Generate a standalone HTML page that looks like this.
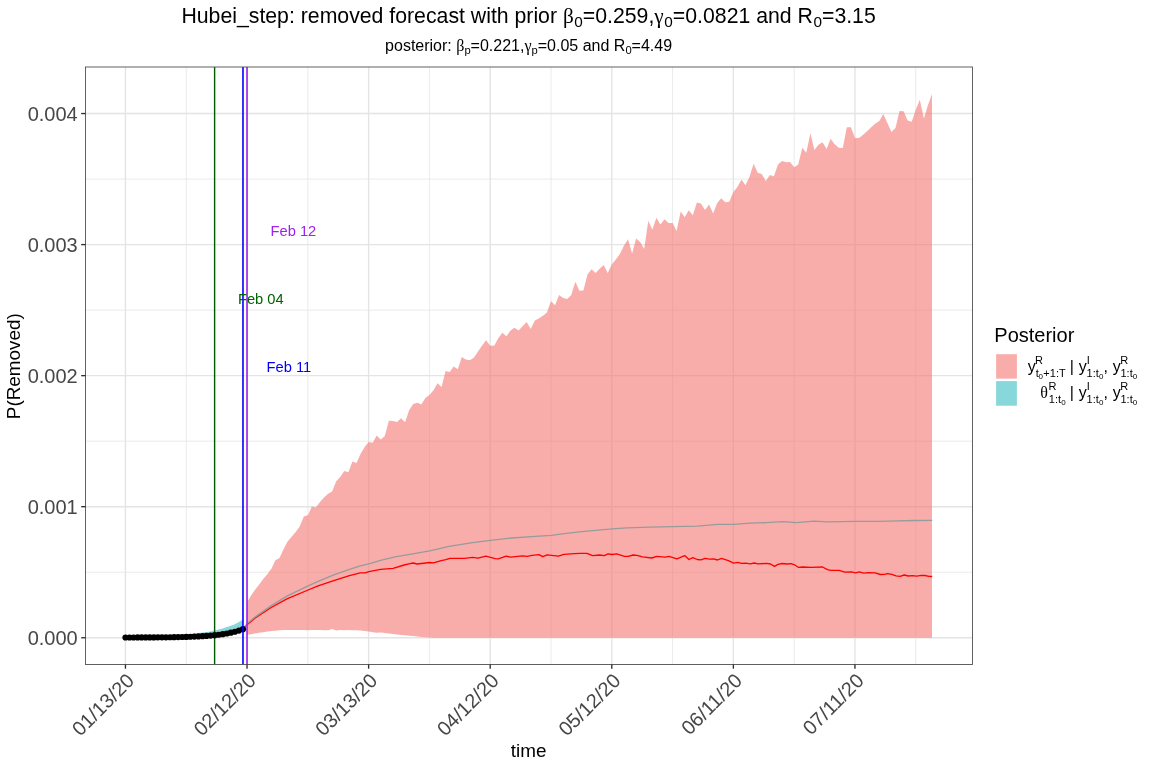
<!DOCTYPE html>
<html lang="en"><head><meta charset="utf-8"><title>Hubei_step: removed forecast</title>
<style>html,body{margin:0;padding:0;background:#fff;}body{width:1152px;height:768px;overflow:hidden;}svg{display:block;}text{font-family:"Liberation Sans",sans-serif;}.g{font-family:"Liberation Serif",serif;}</style></head><body>
<svg width="1152" height="768" viewBox="0 0 1152 768">
<rect width="1152" height="768" fill="#fff"/>
<g stroke="#e4e4e4" fill="none">
<line x1="186.24" x2="186.24" y1="67.0" y2="664.5" stroke-width="0.75"/>
<line x1="307.83" x2="307.83" y1="67.0" y2="664.5" stroke-width="0.75"/>
<line x1="429.41" x2="429.41" y1="67.0" y2="664.5" stroke-width="0.75"/>
<line x1="550.99" x2="550.99" y1="67.0" y2="664.5" stroke-width="0.75"/>
<line x1="672.58" x2="672.58" y1="67.0" y2="664.5" stroke-width="0.75"/>
<line x1="794.16" x2="794.16" y1="67.0" y2="664.5" stroke-width="0.75"/>
<line x1="915.75" x2="915.75" y1="67.0" y2="664.5" stroke-width="0.75"/>
<line x1="85.45" x2="972.5" y1="572.23" y2="572.23" stroke-width="0.75"/>
<line x1="85.45" x2="972.5" y1="441.17" y2="441.17" stroke-width="0.75"/>
<line x1="85.45" x2="972.5" y1="310.12" y2="310.12" stroke-width="0.75"/>
<line x1="85.45" x2="972.5" y1="179.07" y2="179.07" stroke-width="0.75"/>
<line x1="125.45" x2="125.45" y1="67.0" y2="664.5" stroke-width="1.4"/>
<line x1="247.03" x2="247.03" y1="67.0" y2="664.5" stroke-width="1.4"/>
<line x1="368.62" x2="368.62" y1="67.0" y2="664.5" stroke-width="1.4"/>
<line x1="490.20" x2="490.20" y1="67.0" y2="664.5" stroke-width="1.4"/>
<line x1="611.79" x2="611.79" y1="67.0" y2="664.5" stroke-width="1.4"/>
<line x1="733.37" x2="733.37" y1="67.0" y2="664.5" stroke-width="1.4"/>
<line x1="854.95" x2="854.95" y1="67.0" y2="664.5" stroke-width="1.4"/>
<line x1="85.45" x2="972.5" y1="637.75" y2="637.75" stroke-width="1.4"/>
<line x1="85.45" x2="972.5" y1="506.70" y2="506.70" stroke-width="1.4"/>
<line x1="85.45" x2="972.5" y1="375.65" y2="375.65" stroke-width="1.4"/>
<line x1="85.45" x2="972.5" y1="244.60" y2="244.60" stroke-width="1.4"/>
<line x1="85.45" x2="972.5" y1="113.55" y2="113.55" stroke-width="1.4"/>
</g>
<polygon fill="#27b6bc" fill-opacity="0.55" points="125.5,637.2 129.5,637.2 133.6,637.1 137.6,637.0 141.7,636.9 145.7,636.8 149.8,636.6 153.8,636.4 157.9,636.2 161.9,636.0 166.0,635.8 170.0,635.5 174.1,635.3 178.1,635.0 182.2,634.7 186.2,634.3 190.3,634.0 194.3,633.5 198.4,633.1 202.5,632.6 206.5,632.0 210.6,631.4 214.6,630.6 218.7,629.6 222.7,628.4 226.8,627.0 230.8,625.7 234.9,624.2 238.9,622.0 243.0,619.5 243.0,629.2 238.9,630.6 234.9,631.7 230.8,632.7 226.8,633.5 222.7,634.2 218.7,634.7 214.6,635.2 210.6,635.6 206.5,635.9 202.5,636.2 198.4,636.4 194.3,636.6 190.3,636.8 186.2,636.9 182.2,637.0 178.1,637.1 174.1,637.2 170.0,637.2 166.0,637.3 161.9,637.3 157.9,637.4 153.8,637.4 149.8,637.4 145.7,637.4 141.7,637.5 137.6,637.5 133.6,637.5 129.5,637.5 125.5,637.5"/>
<polygon fill="#f57672" fill-opacity="0.6" points="247.0,602.3 251.1,595.6 255.1,589.8 259.2,584.4 263.2,578.9 267.3,574.2 271.4,568.8 275.4,560.2 279.5,558.1 283.5,549.2 287.6,541.4 291.6,536.7 295.7,532.0 299.7,526.6 303.8,516.4 307.8,515.3 311.9,506.6 315.9,507.5 320.0,502.0 324.0,497.5 328.1,493.8 332.1,491.4 336.2,481.2 340.2,476.9 344.3,471.1 348.4,472.2 352.4,461.4 356.5,463.0 360.5,453.9 364.6,446.9 368.6,441.9 372.7,442.7 376.7,435.6 380.8,439.4 384.8,435.9 388.9,420.8 392.9,421.1 397.0,421.9 401.0,418.3 405.1,422.3 409.1,410.2 413.2,403.9 417.3,402.8 421.3,404.5 425.4,398.0 429.4,395.0 433.5,390.3 437.5,383.3 441.6,387.0 445.6,371.1 449.7,371.9 453.7,366.4 457.8,369.2 461.8,357.0 465.9,359.4 469.9,360.2 474.0,357.5 478.0,351.6 482.1,345.6 486.1,340.3 490.2,345.8 494.3,345.6 498.3,338.3 502.4,332.8 506.4,336.2 510.5,330.5 514.5,327.8 518.6,330.5 522.6,326.2 526.7,321.9 530.7,329.0 534.8,320.4 538.8,318.4 542.9,315.8 546.9,312.5 551.0,300.9 555.0,305.2 559.1,295.0 563.2,298.1 567.2,298.9 571.3,295.0 575.3,281.7 579.4,290.8 583.4,290.6 587.5,274.4 591.5,269.2 595.6,273.1 599.6,268.8 603.7,265.0 607.7,273.1 611.8,264.5 615.8,259.4 619.9,254.1 623.9,245.8 628.0,239.2 632.1,253.6 636.1,238.4 640.2,241.9 644.2,248.9 648.3,220.8 652.3,229.8 656.4,217.8 660.4,224.4 664.5,219.2 668.5,223.1 672.6,223.1 676.6,231.1 680.7,211.4 684.7,217.3 688.8,210.3 692.8,215.3 696.9,202.5 700.9,203.6 705.0,210.0 709.1,204.5 713.1,213.4 717.2,203.0 721.2,198.3 725.3,202.2 729.3,201.7 733.4,192.0 737.4,186.9 741.5,179.5 745.5,185.3 749.6,176.5 753.6,163.8 757.7,172.8 761.7,173.9 765.8,180.9 769.8,175.0 773.9,176.2 778.0,164.5 782.0,161.1 786.1,162.2 790.1,161.9 794.2,167.3 798.2,164.5 802.3,147.8 806.3,152.8 810.4,133.3 814.4,150.0 818.5,144.7 822.5,142.2 826.6,148.9 830.6,138.8 834.7,144.2 838.7,147.7 842.8,147.9 846.8,127.2 850.9,127.2 855.0,137.9 859.0,137.9 863.1,134.8 867.1,131.2 871.2,127.2 875.2,123.8 879.3,120.9 883.3,113.9 887.4,123.0 891.4,131.9 895.5,128.0 899.5,111.1 903.6,111.2 907.6,120.6 911.7,121.7 915.7,110.0 919.8,99.8 923.9,118.6 927.9,105.3 932.0,94.1 932.0,637.7 927.9,637.7 923.9,637.7 919.8,637.7 915.7,637.7 911.7,637.7 907.6,637.7 903.6,637.7 899.5,637.7 895.5,637.7 891.4,637.7 887.4,637.7 883.3,637.7 879.3,637.7 875.2,637.7 871.2,637.7 867.1,637.7 863.1,637.7 859.0,637.7 855.0,637.7 850.9,637.7 846.8,637.7 842.8,637.7 838.7,637.7 834.7,637.7 830.6,637.7 826.6,637.7 822.5,637.7 818.5,637.7 814.4,637.7 810.4,637.7 806.3,637.7 802.3,637.7 798.2,637.7 794.2,637.7 790.1,637.7 786.1,637.7 782.0,637.7 778.0,637.7 773.9,637.7 769.8,637.7 765.8,637.7 761.7,637.7 757.7,637.7 753.6,637.7 749.6,637.7 745.5,637.7 741.5,637.7 737.4,637.7 733.4,637.7 729.3,637.7 725.3,637.7 721.2,637.7 717.2,637.7 713.1,637.7 709.1,637.7 705.0,637.7 700.9,637.7 696.9,637.7 692.8,637.7 688.8,637.7 684.7,637.7 680.7,637.7 676.6,637.7 672.6,637.7 668.5,637.7 664.5,637.7 660.4,637.7 656.4,637.7 652.3,637.7 648.3,637.7 644.2,637.7 640.2,637.7 636.1,637.7 632.1,637.7 628.0,637.7 623.9,637.7 619.9,637.7 615.8,637.7 611.8,637.7 607.7,637.7 603.7,637.7 599.6,637.7 595.6,637.7 591.5,637.7 587.5,637.7 583.4,637.7 579.4,637.7 575.3,637.7 571.3,637.7 567.2,637.7 563.2,637.7 559.1,637.7 555.0,637.7 551.0,637.7 546.9,637.7 542.9,637.7 538.8,637.7 534.8,637.7 530.7,637.7 526.7,637.7 522.6,637.7 518.6,637.7 514.5,637.7 510.5,637.7 506.4,637.7 502.4,637.7 498.3,637.7 494.3,637.7 490.2,637.7 486.1,637.7 482.1,637.7 478.0,637.7 474.0,637.7 469.9,637.7 465.9,637.7 461.8,637.7 457.8,637.7 453.7,637.7 449.7,637.7 445.6,637.7 441.6,637.7 437.5,637.7 433.5,637.7 429.4,637.6 425.4,637.3 421.3,636.9 417.3,636.5 413.2,636.1 409.1,635.7 405.1,635.3 401.0,634.9 397.0,634.4 392.9,634.0 388.9,633.5 384.8,633.0 380.8,632.4 376.7,632.8 372.7,632.3 368.6,631.6 364.6,631.1 360.5,630.6 356.5,630.2 352.4,630.2 348.4,630.1 344.3,630.3 340.2,630.1 336.2,630.4 332.1,628.9 328.1,630.3 324.0,630.2 320.0,630.0 315.9,630.1 311.9,630.0 307.8,630.2 303.8,630.0 299.7,630.1 295.7,629.9 291.6,630.1 287.6,630.0 283.5,630.1 279.5,630.3 275.4,630.7 271.4,631.1 267.3,631.6 263.2,632.2 259.2,632.7 255.1,633.5 251.1,634.3 247.0,634.8"/>
<line x1="214.61" x2="214.61" y1="67.0" y2="664.5" stroke="#005a00" stroke-width="1.4"/>
<polyline fill="none" stroke="#ff0000" stroke-width="1.35" stroke-linejoin="round" points="243.2,628.6 247.3,624.4 255.6,617.7 271.2,607.5 286.9,598.9 308.1,590.0 318.1,585.8 333.8,580.6 349.4,575.6 360.3,572.8 365.0,572.8 368.9,571.6 380.6,569.4 393.1,568.4 404.1,565.0 410.0,563.6 413.1,563.0 417.0,564.0 425.6,563.0 429.7,562.5 433.4,562.8 441.2,560.6 445.9,559.7 449.8,558.3 464.7,558.3 472.5,557.3 478.0,558.1 485.8,556.2 490.5,557.3 495.2,558.6 498.3,558.9 506.1,556.2 510.8,557.2 522.5,555.8 527.2,556.4 531.9,555.3 538.9,554.7 542.8,556.7 547.2,554.8 558.4,556.2 563.9,554.4 574.1,553.6 580.0,553.3 587.0,553.3 592.5,555.6 599.5,555.0 604.2,555.6 608.1,553.8 612.0,554.5 616.7,553.8 624.5,556.4 628.4,556.4 633.1,555.0 637.0,555.3 642.5,556.9 651.9,558.0 656.6,556.4 665.2,557.2 669.1,556.4 676.9,558.8 684.7,555.6 688.9,559.5 692.8,557.7 697.2,559.5 701.1,559.8 705.0,558.3 709.7,559.2 713.6,558.9 717.5,560.0 721.4,558.4 728.4,560.6 733.6,563.1 737.8,562.3 741.7,563.4 745.6,563.1 750.3,563.9 754.1,563.0 758.2,563.8 766.5,563.3 770.6,564.0 774.4,566.3 778.0,564.3 782.2,563.5 787.1,564.0 791.2,563.7 794.5,564.8 798.3,567.3 802.8,567.0 811.0,567.3 822.6,567.0 827.5,569.6 830.8,570.3 839.1,570.4 844.8,572.1 851.4,571.8 855.6,572.9 859.2,571.9 863.8,573.2 867.9,572.6 875.3,572.9 880.3,574.5 884.4,574.4 887.7,573.7 891.8,574.4 896.0,575.9 900.1,576.4 904.2,575.0 908.3,576.0 912.5,575.7 916.6,576.2 921.5,575.4 924.8,575.5 929.0,576.4 932.2,576.5"/>
<polyline fill="none" stroke="#969b9b" stroke-width="1.35" stroke-linejoin="round" points="243.2,628.3 247.3,623.6 255.6,616.6 271.2,605.6 286.9,596.2 308.1,585.8 318.1,581.4 333.8,574.8 349.4,569.4 360.3,565.8 368.9,563.8 380.6,560.3 396.2,556.7 410.0,554.4 419.7,552.6 429.7,550.8 449.1,546.4 472.5,542.7 490.5,540.3 511.6,538.0 535.0,536.4 551.3,535.3 566.2,533.3 581.9,531.6 589.7,530.9 595.6,530.3 612.0,528.8 626.9,527.8 650.3,527.2 672.8,526.6 697.2,526.2 717.5,524.4 733.6,524.4 750.3,523.1 766.5,522.6 783.0,521.6 796.2,522.6 814.3,521.1 827.5,521.8 855.6,521.4 878.6,521.4 898.4,520.9 914.9,520.5 932.2,520.3"/>
<g fill="#000">
<circle cx="125.45" cy="637.51" r="3.1"/>
<circle cx="129.50" cy="637.50" r="3.1"/>
<circle cx="133.56" cy="637.49" r="3.1"/>
<circle cx="137.61" cy="637.47" r="3.1"/>
<circle cx="141.66" cy="637.46" r="3.1"/>
<circle cx="145.71" cy="637.44" r="3.1"/>
<circle cx="149.77" cy="637.42" r="3.1"/>
<circle cx="153.82" cy="637.39" r="3.1"/>
<circle cx="157.87" cy="637.36" r="3.1"/>
<circle cx="161.93" cy="637.33" r="3.1"/>
<circle cx="165.98" cy="637.28" r="3.1"/>
<circle cx="170.03" cy="637.23" r="3.1"/>
<circle cx="174.08" cy="637.17" r="3.1"/>
<circle cx="178.14" cy="637.09" r="3.1"/>
<circle cx="182.19" cy="637.00" r="3.1"/>
<circle cx="186.24" cy="636.89" r="3.1"/>
<circle cx="190.29" cy="636.76" r="3.1"/>
<circle cx="194.35" cy="636.60" r="3.1"/>
<circle cx="198.40" cy="636.41" r="3.1"/>
<circle cx="202.45" cy="636.18" r="3.1"/>
<circle cx="206.51" cy="635.91" r="3.1"/>
<circle cx="210.56" cy="635.59" r="3.1"/>
<circle cx="214.61" cy="635.20" r="3.1"/>
<circle cx="218.66" cy="634.73" r="3.1"/>
<circle cx="222.72" cy="634.17" r="3.1"/>
<circle cx="226.77" cy="633.50" r="3.1"/>
<circle cx="230.82" cy="632.70" r="3.1"/>
<circle cx="234.88" cy="631.74" r="3.1"/>
<circle cx="238.93" cy="630.58" r="3.1"/>
<circle cx="242.98" cy="629.20" r="3.1"/>
</g>
<line x1="242.98" x2="242.98" y1="67.0" y2="664.5" stroke="#0000ff" stroke-width="1.6"/>
<line x1="247.03" x2="247.03" y1="67.0" y2="664.5" stroke="#a020f0" stroke-width="1.6"/>
<g font-size="14.7" text-anchor="middle">
<text x="293.4" y="235.8" fill="#a020f0">Feb 12</text>
<text x="260.8" y="303.6" fill="#006400">Feb 04</text>
<text x="288.9" y="371.7" fill="#0000ff">Feb 11</text>
</g>
<rect x="85.45" y="67.0" width="887.0" height="597.5" fill="none" stroke="#505050" stroke-width="0.9"/>
<g stroke="#2e2e2e" stroke-width="1.35">
<line x1="81.2" x2="85.45" y1="637.75" y2="637.75"/>
<line x1="81.2" x2="85.45" y1="506.70" y2="506.70"/>
<line x1="81.2" x2="85.45" y1="375.65" y2="375.65"/>
<line x1="81.2" x2="85.45" y1="244.60" y2="244.60"/>
<line x1="81.2" x2="85.45" y1="113.55" y2="113.55"/>
<line x1="125.45" x2="125.45" y1="664.5" y2="668.7"/>
<line x1="247.03" x2="247.03" y1="664.5" y2="668.7"/>
<line x1="368.62" x2="368.62" y1="664.5" y2="668.7"/>
<line x1="490.20" x2="490.20" y1="664.5" y2="668.7"/>
<line x1="611.79" x2="611.79" y1="664.5" y2="668.7"/>
<line x1="733.37" x2="733.37" y1="664.5" y2="668.7"/>
<line x1="854.95" x2="854.95" y1="664.5" y2="668.7"/>
</g>
<g font-size="20" fill="#474747" text-anchor="end">
<text x="77.7" y="644.8">0.000</text>
<text x="77.7" y="513.7">0.001</text>
<text x="77.7" y="382.6">0.002</text>
<text x="77.7" y="251.6">0.003</text>
<text x="77.7" y="120.5">0.004</text>
</g>
<g font-size="20" fill="#474747" text-anchor="end">
<text transform="translate(135.4,682.0) rotate(-45)">01/13/20</text>
<text transform="translate(257.0,682.0) rotate(-45)">02/12/20</text>
<text transform="translate(378.6,682.0) rotate(-45)">03/13/20</text>
<text transform="translate(500.2,682.0) rotate(-45)">04/12/20</text>
<text transform="translate(621.8,682.0) rotate(-45)">05/12/20</text>
<text transform="translate(743.4,682.0) rotate(-45)">06/11/20</text>
<text transform="translate(865.0,682.0) rotate(-45)">07/11/20</text>
</g>
<text x="528.6" y="757.2" font-size="18.9" text-anchor="middle" fill="#000">time</text>
<text transform="translate(19.9,366.2) rotate(-90)" font-size="18.9" text-anchor="middle" fill="#000">P(Removed)</text>
<text x="528.6" y="22.5" font-size="21.25" text-anchor="middle" fill="#000">Hubei_step: removed forecast with prior <tspan class="g">β</tspan><tspan font-size="15.3" dy="4" dx="0.6">0</tspan><tspan dy="-4">=0.259,</tspan><tspan class="g">γ</tspan><tspan font-size="15.3" dy="4" dx="0.6">0</tspan><tspan dy="-4">=0.0821 and R</tspan><tspan font-size="15.3" dy="4" dx="0.6">0</tspan><tspan dy="-4">=3.15</tspan></text>
<text x="528.6" y="50.6" font-size="16.0" text-anchor="middle" fill="#000">posterior: <tspan class="g">β</tspan><tspan font-size="11.2" dy="3">p</tspan><tspan dy="-3">=0.221,</tspan><tspan class="g">γ</tspan><tspan font-size="11.2" dy="3">p</tspan><tspan dy="-3">=0.05 and R</tspan><tspan font-size="11.2" dy="3">0</tspan><tspan dy="-3">=4.49</tspan></text>
<text x="994.3" y="341.8" font-size="20" fill="#000">Posterior</text>
<rect x="996.1" y="354.2" width="20.8" height="24.4" fill="#f57672" fill-opacity="0.6"/>
<rect x="996.1" y="381.1" width="20.8" height="24.6" fill="#27b6bc" fill-opacity="0.55"/>
<g fill="#000"><text x="1027.64" y="371.70" font-size="16.0">y</text><text x="1034.92" y="363.90" font-size="11.0">R</text><text x="1035.69" y="376.90" font-size="11.0">t</text><text x="1038.38" y="378.75" font-size="8.0">0</text><text x="1043.35" y="376.90" font-size="11.0">+1:T</text><text x="1069.76" y="371.70" font-size="16.0">|</text><text x="1078.84" y="371.70" font-size="16.0">y</text><text x="1086.71" y="363.90" font-size="11.0">I</text><text x="1086.59" y="376.90" font-size="11.0">1:t</text><text x="1098.98" y="378.75" font-size="8.0">0</text><text x="1103.56" y="371.70" font-size="16.0">,</text><text x="1112.64" y="371.70" font-size="16.0">y</text><text x="1120.22" y="363.90" font-size="11.0">R</text><text x="1120.49" y="376.90" font-size="11.0">1:t</text><text x="1132.78" y="378.75" font-size="8.0">0</text></g>
<g fill="#000"><text x="1040.26" y="397.80" font-size="16.0" class="g">θ</text><text x="1048.42" y="390.00" font-size="11.0">R</text><text x="1048.84" y="403.00" font-size="11.0">1:t</text><text x="1061.18" y="404.85" font-size="8.0">0</text><text x="1069.76" y="397.80" font-size="16.0">|</text><text x="1078.84" y="397.80" font-size="16.0">y</text><text x="1086.71" y="390.00" font-size="11.0">I</text><text x="1086.59" y="403.00" font-size="11.0">1:t</text><text x="1098.98" y="404.85" font-size="8.0">0</text><text x="1103.56" y="397.80" font-size="16.0">,</text><text x="1112.64" y="397.80" font-size="16.0">y</text><text x="1120.22" y="390.00" font-size="11.0">R</text><text x="1120.49" y="403.00" font-size="11.0">1:t</text><text x="1132.78" y="404.85" font-size="8.0">0</text></g>
</svg></body></html>
